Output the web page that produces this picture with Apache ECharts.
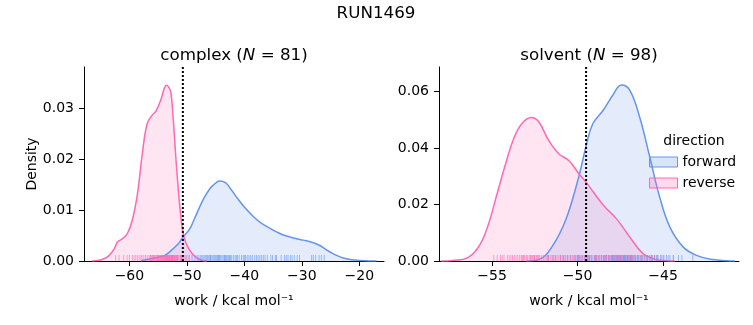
<!DOCTYPE html>
<html><head><meta charset="utf-8">
<script src="https://cdn.jsdelivr.net/npm/echarts@6/dist/echarts.min.js"></script>
<style>html,body{margin:0;padding:0;background:#fff}#c{width:753px;height:325px}</style>
</head><body><div id="c"></div>
<script>
// ---- data ----
const suptitle = 'RUN1469';
const complexN = 81, solventN = 98;
// KDE curves (work, density)
const complexFwdX = [-58,-57.5,-56,-54,-53,-51.5,-50.8,-49.5,-48.8,-47.1,-46,-45.3,-44.3,-43.3,-42.4,-41.4,-40,-38.4,-37,-35.5,-34,-32.65,-31,-29.75,-28,-26.8,-25.7,-24.8,-23.95,-22.8,-21.6,-20,-18.2,-17];
const complexFwdY = [0,0.0002,0.0005,0.001,0.0018,0.0034,0.0045,0.0063,0.008,0.0122,0.0142,0.015,0.0157,0.0154,0.0142,0.0126,0.0106,0.0087,0.0074,0.0064,0.0055,0.0049,0.0044,0.0041,0.0036,0.003,0.0022,0.0016,0.0011,0.0006,0.0003,0.0001,0,0];
const complexRevX = [-66.5,-65.6,-64.5,-63.5,-62.6,-62.1,-61.2,-60.35,-59.5,-58.6,-57.75,-56.9,-56.0,-55.4,-54.55,-53.9,-53.6,-53.2,-52.8,-52.4,-51.8,-51.1,-50.5,-49.65,-48.5,-47.3,-46.5];
const complexRevY = [0,0.0001,0.0004,0.0011,0.0025,0.0037,0.0044,0.0054,0.008,0.0132,0.0211,0.027,0.0287,0.0294,0.0316,0.034,0.0345,0.0342,0.0332,0.0283,0.0185,0.0093,0.0047,0.0024,0.0008,0.0001,0];
const solventFwdX = [-53,-52.27,-51.5,-50.7,-49.93,-49.45,-49.1,-48.5,-47.93,-47.44,-46.95,-46.37,-45.78,-45.2,-44.6,-43.83,-43.05,-42.08,-41.3,-40.8];
const solventFwdY = [0,0.0005,0.005,0.0144,0.0298,0.042,0.0487,0.0534,0.0588,0.0623,0.0605,0.051,0.0369,0.0227,0.012,0.005,0.002,0.0005,0.0001,0];
const solventRevX = [-58,-57.3,-56.36,-55.68,-55.2,-54.7,-54.2,-53.73,-53.25,-52.7,-52.27,-51.7,-51.1,-50.5,-49.93,-49.45,-48.5,-47.73,-46.95,-46.17,-45.4,-44.8,-44.3];
const solventRevY = [0,0.0002,0.0014,0.0061,0.0132,0.0239,0.0345,0.0434,0.0487,0.0508,0.0493,0.0428,0.038,0.0355,0.031,0.0275,0.0198,0.015,0.0085,0.0026,0.0005,0.0001,0];
// rug samples (work values)
const complexFwdRug = [-52.6,-51.6,-50.9,-50.2,-49.6,-49.1,-48.6,-48.2,-47.9,-47.6,-47.4,-47.2,-47.0,-46.8,-46.6,-46.4,-46.2,-46.0,-45.9,-45.8,-45.6,-45.4,-45.2,-45.0,-44.8,-44.7,-44.5,-44.4,-44.3,-44.1,-43.9,-43.7,-43.5,-43.4,-43.3,-43.1,-42.9,-42.7,-42.6,-42.4,-42.2,-41.9,-41.6,-41.4,-41.2,-40.9,-40.5,-40.2,-40.0,-39.8,-39.5,-39.2,-38.9,-38.6,-38.2,-37.9,-37.6,-37.3,-37.0,-36.7,-36.4,-36.0,-35.4,-35.1,-34.6,-34.4,-33.6,-33.0,-32.7,-32.4,-32.0,-31.7,-31.3,-30.8,-30.4,-28.3,-28.0,-27.6,-27.0,-26.6,-26.1];
const complexRevRug = [-62.4,-61.8,-61.0,-60.4,-60.0,-59.5,-59.2,-58.9,-58.6,-58.3,-58.0,-57.8,-57.5,-57.2,-56.9,-56.6,-56.4,-56.3,-56.2,-56.0,-55.9,-55.8,-55.7,-55.6,-55.4,-55.3,-55.2,-55.1,-55.0,-54.9,-54.8,-54.7,-54.6,-54.5,-54.4,-54.35,-54.3,-54.2,-54.1,-54.0,-53.95,-53.9,-53.8,-53.7,-53.65,-53.6,-53.55,-53.5,-53.4,-53.35,-53.3,-53.25,-53.2,-53.1,-53.05,-53.0,-52.9,-52.8,-52.75,-52.7,-52.6,-52.5,-52.45,-52.4,-52.3,-52.2,-52.15,-52.1,-52.0,-51.9,-51.8,-51.7,-51.6,-51.4,-51.2,-51.1,-50.9,-50.7,-50.5,-50.0,-49.6];
const solventFwdRug = [-52.5,-51.7,-51.3,-51.0,-50.8,-50.6,-50.4,-50.2,-50.1,-50.0,-49.95,-49.9,-49.8,-49.7,-49.6,-49.5,-49.4,-49.35,-49.3,-49.2,-49.1,-49.0,-48.95,-48.9,-48.8,-48.7,-48.6,-48.5,-48.45,-48.4,-48.35,-48.3,-48.2,-48.15,-48.1,-48.0,-47.98,-47.95,-47.9,-47.85,-47.8,-47.75,-47.7,-47.68,-47.65,-47.6,-47.55,-47.5,-47.48,-47.45,-47.4,-47.35,-47.3,-47.28,-47.25,-47.2,-47.15,-47.1,-47.08,-47.05,-47.0,-46.95,-46.9,-46.88,-46.85,-46.8,-46.75,-46.7,-46.65,-46.6,-46.5,-46.45,-46.4,-46.3,-46.25,-46.2,-46.1,-46.0,-45.95,-45.9,-45.8,-45.7,-45.65,-45.6,-45.5,-45.4,-45.35,-45.3,-45.15,-45.0,-44.95,-44.8,-44.7,-44.6,-44.4,-44.1,-43.9,-43.26];
const solventRevRug = [-54.9,-54.7,-54.5,-54.4,-54.3,-54.1,-54.0,-53.9,-53.8,-53.7,-53.6,-53.5,-53.4,-53.3,-53.25,-53.2,-53.15,-53.1,-53.0,-52.95,-52.9,-52.8,-52.75,-52.7,-52.65,-52.6,-52.55,-52.5,-52.4,-52.35,-52.3,-52.25,-52.2,-52.1,-52.0,-51.9,-51.8,-51.75,-51.7,-51.6,-51.5,-51.45,-51.4,-51.3,-51.2,-51.1,-51.0,-50.9,-50.85,-50.8,-50.7,-50.6,-50.5,-50.4,-50.3,-50.2,-50.1,-50.0,-49.9,-49.8,-49.7,-49.6,-49.5,-49.4,-49.3,-49.2,-49.0,-48.9,-48.8,-48.7,-48.6,-48.5,-48.4,-48.3,-48.2,-48.1,-48.0,-47.9,-47.8,-47.7,-47.6,-47.5,-47.4,-47.3,-47.2,-47.0,-46.9,-46.8,-46.6,-46.5,-46.3,-46.1,-45.9,-45.7,-45.5,-45.3,-45.1,-44.4];
// dotted reference lines
const complexRef = -50.7;
const solventRef = -49.5;
// axes
const complexXTicks = [-60,-50,-40,-30,-20];
const complexYTicks = [0,0.01,0.02,0.03];
const solventXTicks = [-55,-50,-45];
const solventYTicks = [0,0.02,0.04,0.06];
const complexXRange = [-67.9,-15.7], complexYMax = 0.0381;
const solventXRange = [-58.1,-40.56], solventYMax = 0.0687;

// ---- styling ----
const FONT = 'DejaVu Sans';
const BLUE = '#6495ED', PINK = '#FF69B4';
const BLUE_F = 'rgba(100,149,237,0.25)', PINK_F = 'rgba(255,105,180,0.25)';
const zip = (a,b) => a.map((v,i)=>[v,b[i]]);
const minus = v => String(v).replace('-', '\u2212');

function xAxis(idx, range, ticks){
  return {gridIndex: idx, type:'value', min: range[0], max: range[1],
    name: 'work / kcal mol\u207B\u00B9', nameLocation:'middle', nameGap: 33,
    nameTextStyle:{fontFamily:FONT, fontSize:14, color:'#000'},
    axisLine:{show:true, onZero:false, lineStyle:{color:'#000', width:1}},
    axisTick:{show:true, length:5, inside:false, customValues: ticks, lineStyle:{color:'#000', width:1}},
    axisLabel:{customValues: ticks, margin:8, fontFamily:FONT, fontSize:14, color:'#000', formatter: v=>minus(v)},
    splitLine:{show:false}};
}
function yAxis(idx, max, ticks, digits, name){
  return {gridIndex: idx, type:'value', min:0, max:max,
    name: name || '', nameLocation:'middle', nameGap: 45,
    nameTextStyle:{fontFamily:FONT, fontSize:14, color:'#000'},
    axisLine:{show:true, lineStyle:{color:'#000', width:1}},
    axisTick:{show:true, length:5, inside:false, customValues: ticks, lineStyle:{color:'#000', width:1}},
    axisLabel:{customValues: ticks, margin:10, fontFamily:FONT, fontSize:14, color:'#000', formatter: v=>v.toFixed(digits)},
    splitLine:{show:false}};
}
function kde(name, idx, x, y, color, fill){
  return {type:'line', name, xAxisIndex: idx, yAxisIndex: idx, data: zip(x,y),
    showSymbol:false, symbol:'none', smooth:0.4,
    lineStyle:{color, width:1.5}, itemStyle:{color}, areaStyle:{color: fill}, z:2};
}
function rug(name, idx, vals, color){
  return {type:'scatter', name, xAxisIndex: idx, yAxisIndex: idx, data: vals.map(v=>[v,0]),
    symbol:'rect', symbolSize:[1,6], symbolOffset:[0,-3],
    itemStyle:{color, opacity:0.6}, z:3, silent:true};
}
function vline(idx, v, max){
  return {type:'line', name:'ref'+idx, xAxisIndex: idx, yAxisIndex: idx, data:[[v,0],[v,max]],
    symbol:'none', lineStyle:{color:'#000', width:2, type:[2,2]}, z:4, silent:true};
}

const chart = echarts.init(document.getElementById('c'), null, {renderer:'canvas'});
chart.setOption({
  animation:false,
  backgroundColor:'#fff',
  title:[
    {text: suptitle, left: 371, top: 0, textAlign:'center', textStyle:{fontFamily:FONT, fontSize:16.7, fontWeight:'normal', color:'#000'}},
    {text: 'complex ({i|N} = ' + complexN + ')', left: 229, top: 42, textAlign:'center',
      textStyle:{fontFamily:FONT, fontSize:16.7, fontWeight:'normal', color:'#000', rich:{i:{fontFamily:FONT, fontSize:16.7, fontStyle:'italic', color:'#000'}}}},
    {text: 'solvent ({i|N} = ' + solventN + ')', left: 584, top: 42, textAlign:'center',
      textStyle:{fontFamily:FONT, fontSize:16.7, fontWeight:'normal', color:'#000', rich:{i:{fontFamily:FONT, fontSize:16.7, fontStyle:'italic', color:'#000'}}}},
    {text: 'direction', left: 689, top: 129, textAlign:'center', textStyle:{fontFamily:FONT, fontSize:14, fontWeight:'normal', color:'#000'}}
  ],
  legend:{orient:'vertical', left:644, top:150, itemWidth:28, itemHeight:10, itemGap:7, selectedMode:false,
    textStyle:{fontFamily:FONT, fontSize:14, color:'#000'},
    data:[
      {name:'forward', icon:'rect', itemStyle:{color:BLUE_F, borderColor:BLUE, borderWidth:1}},
      {name:'reverse', icon:'rect', itemStyle:{color:PINK_F, borderColor:PINK, borderWidth:1}}
    ]},
  grid:[
    {left:84, top:67, width:300, height:194, containLabel:false},
    {left:439, top:67, width:300, height:194, containLabel:false}
  ],
  xAxis:[xAxis(0, complexXRange, complexXTicks), xAxis(1, solventXRange, solventXTicks)],
  yAxis:[yAxis(0, complexYMax, complexYTicks, 2, 'Density'), yAxis(1, solventYMax, solventYTicks, 2, '')],
  series:[
    kde('forward', 0, complexFwdX, complexFwdY, BLUE, BLUE_F),
    kde('reverse', 0, complexRevX, complexRevY, PINK, PINK_F),
    rug('forward rug', 0, complexFwdRug, BLUE),
    rug('reverse rug', 0, complexRevRug, PINK),
    vline(0, complexRef, complexYMax),
    kde('forward', 1, solventFwdX, solventFwdY, BLUE, BLUE_F),
    kde('reverse', 1, solventRevX, solventRevY, PINK, PINK_F),
    rug('forward rug', 1, solventFwdRug, BLUE),
    rug('reverse rug', 1, solventRevRug, PINK),
    vline(1, solventRef, solventYMax)
  ]
});
</script></body></html>
